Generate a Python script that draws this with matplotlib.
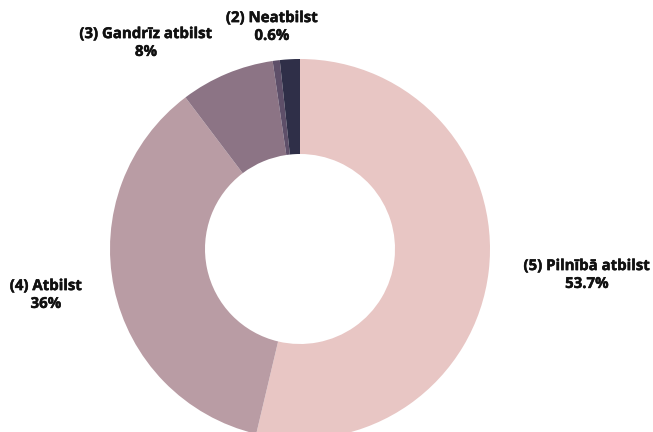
import matplotlib
matplotlib.use("Agg")
import matplotlib.pyplot as plt
import matplotlib.patheffects as pe

categories = ["(5) Pilnībā atbilst", "(4) Atbilst", "(3) Gandrīz atbilst", "(2) Neatbilst", "(1) Nemaz neatbilst"]
values = [53.7, 36, 8, 0.6, 1.7]
value_labels = ["53.7%", "36%", "8%", "0.6%", None]
colors = ["#e8c6c4", "#b99ca4", "#8c7485", "#5e4f69", "#2f2f48"]

plt.rcParams["font.family"] = ["Open Sans", "DejaVu Sans"]

fig = plt.figure(figsize=(6.53, 4.32), dpi=100)
ax = fig.add_axes([0, 0, 1, 1])

cx, cy, r = 300, 183, 190
wedges, _ = ax.pie(values, colors=colors, startangle=90, counterclock=False,
                   center=(cx, cy), radius=r,
                   wedgeprops=dict(width=95, edgecolor="none", linewidth=0))

label_pos = [(587, 157), (46, 137), (146, 389), (272, 405), None]
for cat, lab, pos in zip(categories, value_labels, label_pos):
    if lab is None:
        continue
    ax.text(pos[0], pos[1], f"{cat}\n{lab}", ha="center", va="center",
            fontsize=10.8, fontweight="bold", color="#111111", linespacing=1.35,
            path_effects=[pe.withStroke(linewidth=0.35, foreground="#111111")])

ax.set_xlim(0, 653)
ax.set_ylim(0, 432)
ax.set_aspect("equal")
ax.axis("off")

fig.savefig("out.png", dpi=100)
